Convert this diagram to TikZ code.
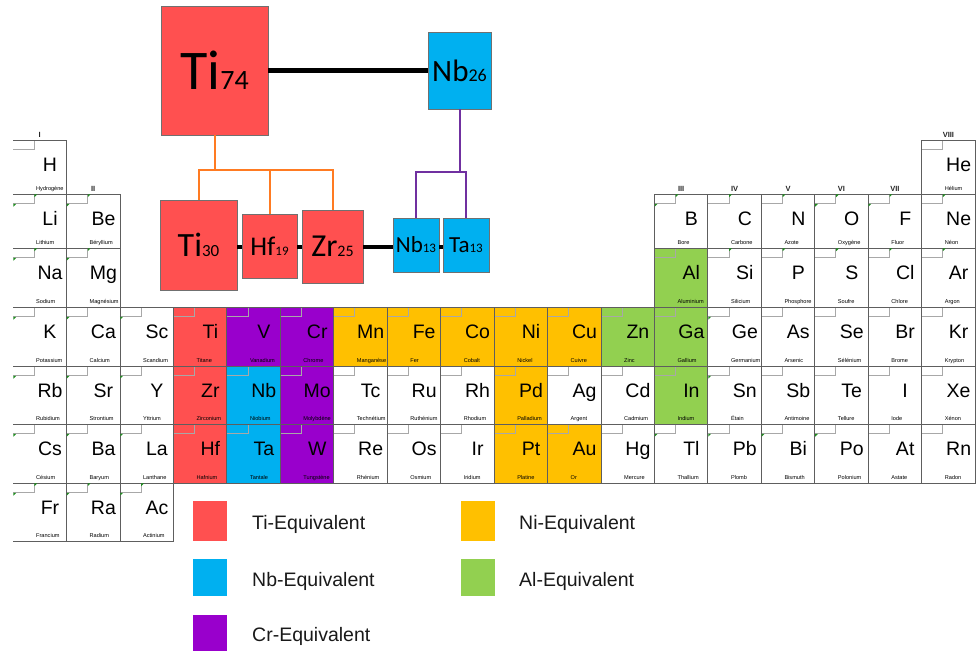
\documentclass[tikz,border=0pt]{standalone}
\usepackage{fontspec}
\setmainfont{Liberation Sans}
\newfontfamily\calfont{Carlito}
\usepackage{tikz}

\definecolor{ticol}{HTML}{FF5050}
\definecolor{nbcol}{HTML}{00B0F0}
\definecolor{crcol}{HTML}{9900CC}
\definecolor{nicol}{HTML}{FFC000}
\definecolor{alcol}{HTML}{92D050}
\definecolor{cellgray}{HTML}{5E5E5E}
\definecolor{tabgray}{HTML}{A8A8A8}
\definecolor{boxgray}{HTML}{707070}
\definecolor{markgreen}{HTML}{1E8C1E}
\definecolor{tibranch}{HTML}{FF7B22}
\definecolor{nbbranch}{HTML}{7030A0}

\newcommand\mixlabel[4]{{\fontsize{#1}{#1}\selectfont #3}{\fontsize{#2}{#2}\selectfont #4}}

\begin{document}
\begin{tikzpicture}[x=1pt,y=-1pt,
  cellline/.style={draw=cellgray, line width=0.8pt},
  tabline/.style={draw=tabgray, line width=0.6pt},
  symbol/.style={anchor=base, inner sep=0pt, font=\fontsize{19.5}{19.5}\selectfont},
  ename/.style={anchor=base west, inner sep=0pt, font=\fontsize{5.6}{5.6}\selectfont},
  grp/.style={anchor=base, inner sep=0pt, font=\bfseries\fontsize{7.5}{7.5}\selectfont, text=black!85},
  mixbox/.style={draw=boxgray, line width=0.8pt, inner sep=0pt, font=\calfont},
  bond/.style={line width=4.5pt, black},
  branch/.style={line width=2pt},
  legbox/.style={inner sep=0pt, minimum width=34pt},
  legtext/.style={anchor=base west, inner sep=0pt, font=\fontsize{19.5}{19.5}\selectfont, text=black!90}]
\useasboundingbox (0,0) rectangle (978,653);

% periodic table
\foreach \c/\r/\s/\n/\f in {
  1/1/H/Hydrogène/white, 18/1/He/Hélium/white,
  1/2/Li/Lithium/white, 2/2/Be/Béryllium/white, 13/2/B/Bore/white, 14/2/C/Carbone/white,
  15/2/N/Azote/white, 16/2/O/Oxygène/white, 17/2/F/Fluor/white, 18/2/Ne/Néon/white,
  1/3/Na/Sodium/white, 2/3/Mg/Magnésium/white, 13/3/Al/Aluminium/alcol, 14/3/Si/Silicium/white,
  15/3/P/Phosphore/white, 16/3/S/Soufre/white, 17/3/Cl/Chlore/white, 18/3/Ar/Argon/white,
  1/4/K/Potassium/white, 2/4/Ca/Calcium/white, 3/4/Sc/Scandium/white, 4/4/Ti/Titane/ticol,
  5/4/V/Vanadium/crcol, 6/4/Cr/Chrome/crcol, 7/4/Mn/Manganèse/nicol, 8/4/Fe/Fer/nicol,
  9/4/Co/Cobalt/nicol, 10/4/Ni/Nickel/nicol, 11/4/Cu/Cuivre/nicol, 12/4/Zn/Zinc/alcol,
  13/4/Ga/Gallium/alcol, 14/4/Ge/Germanium/white, 15/4/As/Arsenic/white, 16/4/Se/Sélénium/white,
  17/4/Br/Brome/white, 18/4/Kr/Krypton/white,
  1/5/Rb/Rubidium/white, 2/5/Sr/Strontium/white, 3/5/Y/Yttrium/white, 4/5/Zr/Zirconium/ticol,
  5/5/Nb/Niobium/nbcol, 6/5/Mo/Molybdène/crcol, 7/5/Tc/Technétium/white, 8/5/Ru/Ruthénium/white,
  9/5/Rh/Rhodium/white, 10/5/Pd/Palladium/nicol, 11/5/Ag/Argent/white, 12/5/Cd/Cadmium/white,
  13/5/In/Indium/alcol, 14/5/Sn/Étain/white, 15/5/Sb/Antimoine/white, 16/5/Te/Tellure/white,
  17/5/I/Iode/white, 18/5/Xe/Xénon/white,
  1/6/Cs/Césium/white, 2/6/Ba/Baryum/white, 3/6/La/Lanthane/white, 4/6/Hf/Hafnium/ticol,
  5/6/Ta/Tantale/nbcol, 6/6/W/Tungstène/crcol, 7/6/Re/Rhénium/white, 8/6/Os/Osmium/white,
  9/6/Ir/Iridium/white, 10/6/Pt/Platine/nicol, 11/6/Au/Or/nicol, 12/6/Hg/Mercure/white,
  13/6/Tl/Thallium/white, 14/6/Pb/Plomb/white, 15/6/Bi/Bismuth/white, 16/6/Po/Polonium/white,
  17/6/At/Astate/white, 18/6/Rn/Radon/white,
  1/7/Fr/Francium/white, 2/7/Ra/Radium/white, 3/7/Ac/Actinium/white}{
  \pgfmathsetmacro\xl{13+(\c-1)*53.45}
  \pgfmathsetmacro\xr{\xl+53.45}
  \pgfmathsetmacro\yt{{0,140,194,248,307,366,424,483,541}[\r]}
  \pgfmathsetmacro\yb{{0,140,194,248,307,366,424,483,541}[\r+1]}
  \fill[\f] (\xl,\yt) rectangle (\xr,\yb);
  \draw[tabline] (\xl,\yt+9) -- (\xl+21,\yt+9) -- (\xl+21,\yt);
  \ifnum\c=1
    \draw[cellline] (\xl,\yt) -- (\xr,\yt) -- (\xr,\yb) -- (\xl,\yb);
  \else
    \draw[cellline] (\xl,\yt) rectangle (\xr,\yb);
  \fi
  \node[symbol] (sym-\s) at (\xl+37,\yt+31) {\s};
  \node[ename] (name-\s) at (\xl+23,\yb-3.2) {\n};
}

% little green corners
\foreach \c/\r in {1/2,2/2,1/3,2/3,1/4,2/4,3/4,1/5,2/5,3/5,1/6,2/6,3/6,1/7,2/7,3/7,
  13/2,16/2,17/2,14/4,14/5,13/6,14/6,15/6,16/6}{
  \pgfmathsetmacro\xl{13+(\c-1)*53.45}
  \pgfmathsetmacro\yt{{0,140,194,248,307,366,424,483,541}[\r]}
  \fill[markgreen] (\xl+0.4,\yt+9.8) -- ++(2.8,0) -- ++(-2.8,2.8) -- cycle;
}
\foreach \c/\r in {1/2,2/2,1/3,2/3,13/2,14/2,15/2,16/2,17/2,18/2,
  14/3,15/3,16/3,17/3,18/3,1/7,2/7,3/7}{
  \pgfmathsetmacro\xl{13+(\c-1)*53.45}
  \pgfmathsetmacro\yt{{0,140,194,248,307,366,424,483,541}[\r]}
  \fill[markgreen] (\xl+21.3,\yt+0.4) -- ++(2.8,0) -- ++(-2.8,2.8) -- cycle;
}

% group numbers
\foreach \c/\r/\g in {1/1/I, 2/2/II, 13/2/III, 14/2/IV, 15/2/V, 16/2/VI, 17/2/VII, 18/1/VIII}{
  \pgfmathsetmacro\yt{{0,140,194,248,307,366,424,483,541}[\r]}
  \node[grp] (grp-\g) at ({13+(\c-0.5)*53.45},\yt-2.6) {\g};
}

% equivalence tree
\node[mixbox, fill=ticol, minimum width=107pt, minimum height=129pt] (ti74) at (214.5,70.5) {\mixlabel{56}{28}{Ti}{74}};
\node[mixbox, fill=nbcol, minimum width=63pt, minimum height=77pt] (nb26) at (459.5,70.5) {\mixlabel{31}{18}{Nb}{26}};
\node[mixbox, fill=ticol, minimum width=77pt, minimum height=90pt] (ti30) at (198.5,245) {\mixlabel{34}{17}{Ti}{30}};
\node[mixbox, fill=ticol, minimum width=55pt, minimum height=64pt] (hf19) at (269.5,246) {\mixlabel{27}{13}{Hf}{19}};
\node[mixbox, fill=ticol, minimum width=61pt, minimum height=73pt] (zr25) at (332.5,246.5) {\mixlabel{32}{16}{Zr}{25}};
\node[mixbox, fill=nbcol, minimum width=46pt, minimum height=54pt] (nb13) at (416,245) {\mixlabel{23}{13}{Nb}{13}};
\node[mixbox, fill=nbcol, minimum width=46pt, minimum height=54pt] (ta13) at (466,245) {\mixlabel{23}{13}{Ta}{13}};

\coordinate (tibus) at (213.5,170);
\coordinate (nbbus) at (459,172);
\coordinate (lowbond) at (0,247);

\draw[bond] (ti74) -- (nb26);
\draw[bond] (ti30.east |- lowbond) -- (hf19.west |- lowbond);
\draw[bond] (hf19.east |- lowbond) -- (zr25.west |- lowbond);
\draw[bond] (zr25.east |- lowbond) -- (nb13.west |- lowbond);
\draw[bond] (nb13.east |- lowbond) -- (ta13.west |- lowbond);

\draw[tibranch, branch] (ti74.south) -- (ti74.south |- tibus);
\draw[tibranch, branch] (ti30.north) |- (tibus) -| (zr25.north);
\draw[tibranch, branch] (hf19.north) -- (hf19.north |- tibus);
\draw[nbbranch, branch] (nb26.south) -- (nb26.south |- nbbus);
\draw[nbbranch, branch] (nb13.north) |- (nbbus) -| (ta13.north);

% legend
\node[legbox, fill=ticol, minimum height=40pt] (leg-ti) at (210,521) {};
\node[legbox, fill=nbcol, minimum height=37pt] (leg-nb) at (210,577.5) {};
\node[legbox, fill=crcol, minimum height=36pt] (leg-cr) at (210,633) {};
\node[legbox, fill=nicol, minimum height=40pt] (leg-ni) at (477.5,521) {};
\node[legbox, fill=alcol, minimum height=37pt] (leg-al) at (477.5,577.5) {};
\node[legtext] (txt-ti) at (252,529) {Ti-Equivalent};
\node[legtext] (txt-nb) at (252,586) {Nb-Equivalent};
\node[legtext] (txt-cr) at (252,641) {Cr-Equivalent};
\node[legtext] (txt-ni) at (519,529) {Ni-Equivalent};
\node[legtext] (txt-al) at (519,586) {Al-Equivalent};
\end{tikzpicture}
\end{document}
